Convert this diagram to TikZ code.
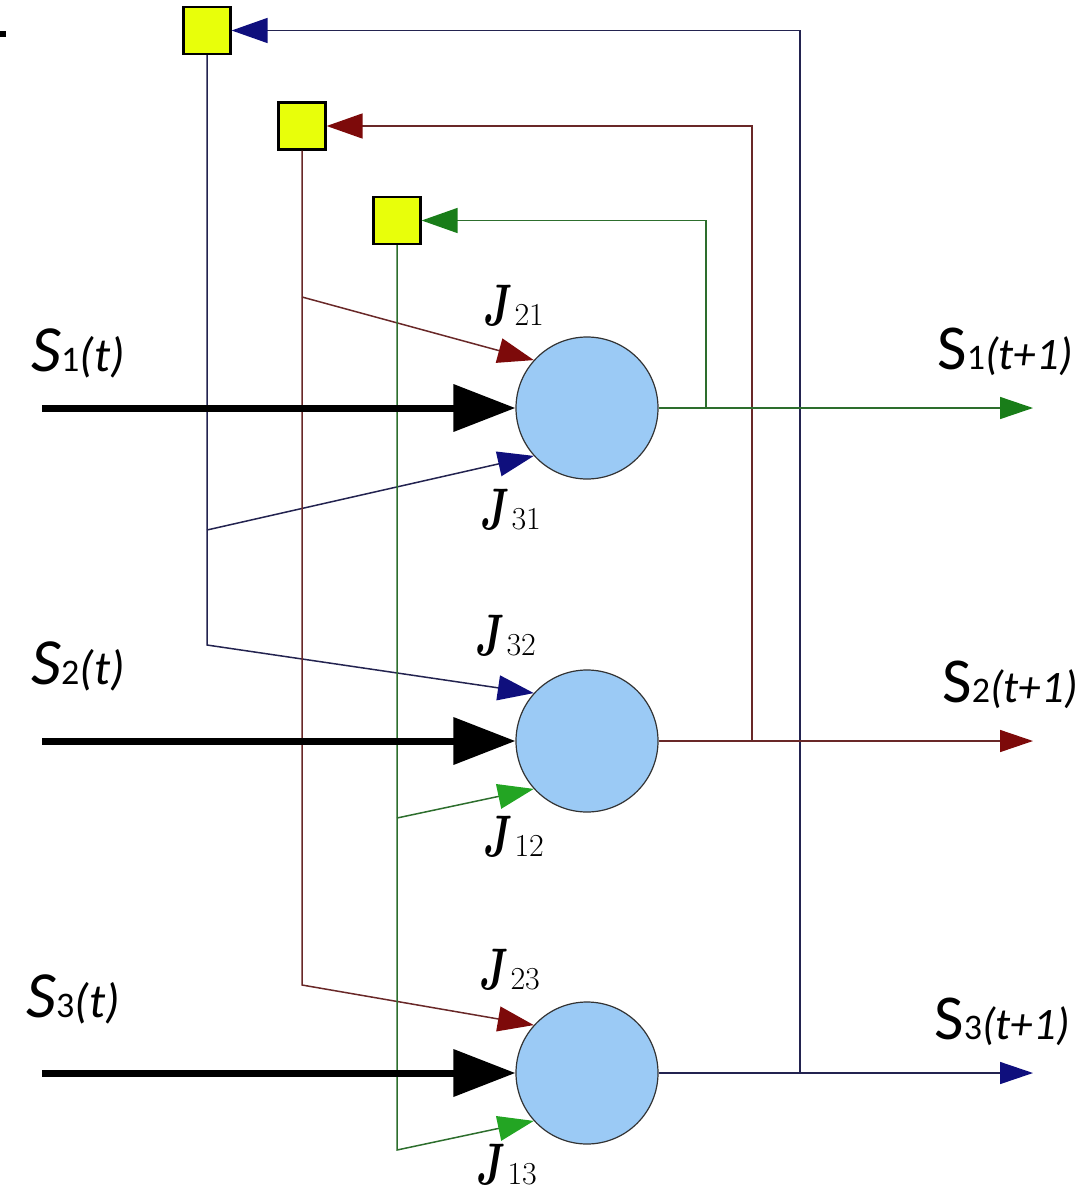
\documentclass[tikz,border=0pt]{standalone}
\usepackage{fontspec}
\newfontfamily\labfont{Carlito}
\usetikzlibrary{arrows.meta}
\definecolor{nvA}{RGB}{15,15,125}
\definecolor{nvL}{RGB}{35,35,80}
\definecolor{mrA}{RGB}{125,10,10}
\definecolor{mrL}{RGB}{105,40,40}
\definecolor{grA}{RGB}{25,125,25}
\definecolor{grB}{RGB}{35,165,35}
\definecolor{grL}{RGB}{45,110,45}
\definecolor{neuron}{RGB}{155,202,245}
\definecolor{gate}{RGB}{232,255,10}
\tikzset{
  gatebox/.style={draw=black, line width=1.1pt, fill=gate, minimum size=23.5pt, inner sep=0pt},
  neuronnode/.style={circle, draw=black!80, line width=0.6pt, fill=neuron, minimum size=71pt, inner sep=0pt},
  thintip/.style={-{Triangle[length=18pt,width=12.5pt,color=#1]}},
  outtip/.style={-{Triangle[length=16.5pt,width=11pt,color=#1]}},
  inarrow/.style={line width=3.5pt, -{Triangle[length=31pt,width=23pt]}},
  wire/.style={line width=0.75pt},
  slabel/.style={font=\labfont, inner sep=0pt, anchor=base west},
  jlabel/.style={inner sep=0pt, anchor=base west}
}
% left labels (italic S), right labels (upright S)
\newcommand{\Sl}[2]{{\fontsize{33}{36}\selectfont\itshape S}{\fontsize{18}{20}\selectfont #1}{\fontsize{24}{26}\selectfont\itshape(#2)}}
\newcommand{\Sr}[2]{{\fontsize{32}{36}\selectfont S}{\fontsize{18}{20}\selectfont #1}{\fontsize{22.5}{26}\selectfont\itshape(#2)}}
\newcommand{\Jv}[1]{\scalebox{0.8}[1.18]{\fontsize{24.88}{28}\selectfont\boldmath$J$}\hspace{1pt}{\fontsize{16}{18}\selectfont #1}}
\begin{document}
\begin{tikzpicture}[x=0.5pt,y=-0.5pt]
\useasboundingbox (0,0) rectangle (1076,1193);
\fill[black] (0,31) rectangle (6,37);

% neurons
\node[neuronnode] (c1) at (587,408) {};
\node[neuronnode] (c2) at (587,741) {};
\node[neuronnode] (c3) at (587,1073) {};

% gates
\node[gatebox] (g1) at (207,30.5) {};
\node[gatebox] (g2) at (302,126) {};
\node[gatebox] (g3) at (397,220.5) {};

% coordinates
\coordinate (in1) at (42,408);
\coordinate (in2) at (42,741);
\coordinate (in3) at (42,1073);
\coordinate (out1) at (1033,408);
\coordinate (out2) at (1033,741);
\coordinate (out3) at (1033,1073);
\coordinate (jg) at (706,408);
\coordinate (jr) at (752,741);
\coordinate (jb) at (800,1073);
\coordinate (bk) at (207,645);
\coordinate (bb) at (207,530);
\coordinate (rk) at (302,985);
\coordinate (rb) at (302,297);
\coordinate (gk) at (397,1150);
\coordinate (gb) at (397,818);

% feedback wires
\draw[wire, nvL, thintip=nvA] (jb) |- (g1.east);
\draw[wire, mrL, thintip=mrA] (jr) |- (g2.east);
\draw[wire, grL, thintip=grA] (jg) |- (g3.east);

% weighted inputs
\draw[wire, nvL, thintip=nvA] (g1.south) -- (bk) -- (c2.138);
\draw[wire, nvL, thintip=nvA] (bb) -- (c1.222);
\draw[wire, mrL, thintip=mrA] (g2.south) -- (rk) -- (c3.138);
\draw[wire, mrL, thintip=mrA] (rb) -- (c1.138);
\draw[wire, grL, thintip=grB] (g3.south) -- (gk) -- (c3.222);
\draw[wire, grL, thintip=grB] (gb) -- (c2.222);

% outputs
\draw[wire, grL, outtip=grA] (c1.east) -- (out1);
\draw[wire, mrL, outtip=mrA] (c2.east) -- (out2);
\draw[wire, nvL, outtip=nvA] (c3.east) -- (out3);

% inputs
\draw[inarrow] (in1) -- (c1.west);
\draw[inarrow] (in2) -- (c2.west);
\draw[inarrow] (in3) -- (c3.west);

% labels
\node[slabel] (s1) at (31,371) {\Sl{1}{t}};
\node[slabel] (s2) at (31,684) {\Sl{2}{t}};
\node[slabel] (s3) at (26,1017) {\Sl{3}{t}};
\node[slabel] (o1) at (937,369) {\Sr{1}{t+1}};
\node[slabel] (o2) at (942,702) {\Sr{2}{t+1}};
\node[slabel] (o3) at (934,1039) {\Sr{3}{t+1}};

\node[jlabel] (j21) at (483,325) {\Jv{21}};
\node[jlabel] (j31) at (480,529) {\Jv{31}};
\node[jlabel] (j32) at (475,655) {\Jv{32}};
\node[jlabel] (j12) at (483,856) {\Jv{12}};
\node[jlabel] (j23) at (479,989) {\Jv{23}};
\node[jlabel] (j13) at (476,1184) {\Jv{13}};
\end{tikzpicture}
\end{document}
